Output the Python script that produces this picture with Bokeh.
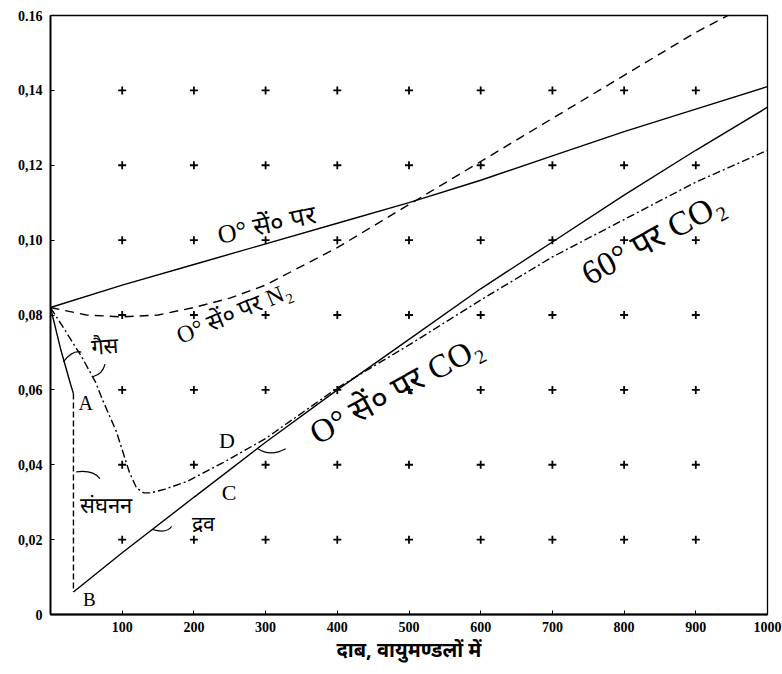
from bokeh.plotting import figure
from bokeh.models import FixedTicker, Range1d, ColumnDataSource
from bokeh.core.properties import value
from bokeh.embed import file_html
from bokeh.resources import INLINE

# ---------------- data ----------------
# gas at 0 deg C  -- solid, "O° सें० पर"
h2_x = [0, 100, 200, 300, 400, 500, 600, 700, 800, 900, 1000]
h2_y = [0.082, 0.088, 0.0935, 0.099, 0.1045, 0.110, 0.116, 0.1225, 0.129, 0.135, 0.141]

# N2 at 0 deg C -- dashed
n2_x = [0, 50, 100, 150, 200, 250, 300, 400, 500, 600, 700, 800, 900, 945]
n2_y = [0.082, 0.080, 0.0795, 0.080, 0.082, 0.0845, 0.088, 0.098, 0.1095, 0.121, 0.1325, 0.144, 0.1555, 0.160]

# CO2 at 0 deg C -- gas branch (solid)
co2g_x = [0, 14, 28, 32]
co2g_y = [0.082, 0.071, 0.0615, 0.059]
# condensation (dashed vertical)
cond_x = [32, 32]
cond_y = [0.059, 0.006]
# liquid branch (solid)
co2l_x = [32, 100, 200, 300, 400, 500, 600, 700, 800, 900, 1000]
co2l_y = [0.006, 0.0165, 0.0313, 0.046, 0.060, 0.0735, 0.087, 0.0995, 0.112, 0.124, 0.1355]

# CO2 at 60 deg C -- dash-dot
co260_x = [0, 20, 43, 63, 72, 92, 110, 120, 130, 140, 160, 190, 240, 300, 400, 500, 600, 700, 800, 900, 1000]
co260_y = [0.082, 0.076, 0.069, 0.062, 0.0576, 0.0488, 0.038, 0.0338, 0.0325, 0.0325, 0.0335,
           0.0355, 0.0405, 0.047, 0.0605, 0.072, 0.084, 0.0955, 0.1055, 0.1155, 0.124]

# ticks
x_ticks = [100, 200, 300, 400, 500, 600, 700, 800, 900, 1000]
x_tick_labels = ["100", "200", "300", "400", "500", "600", "700", "800", "900", "1000"]
y_ticks = [0, 0.02, 0.04, 0.06, 0.08, 0.10, 0.12, 0.14, 0.16]
y_tick_labels = ["0", "0,02", "0,04", "0,06", "0,08", "0,10", "0,12", "0,14", "0.16"]

# grid crosses
cross_xs = [100, 200, 300, 400, 500, 600, 700, 800, 900]
cross_ys = [0.02, 0.04, 0.06, 0.08, 0.10, 0.12, 0.14]

x_title = "दाब, वायुमण्डलों में"

# text annotations
ann_text = ["O° सें० पर", "O° सें० पर N₂", "O° सें० पर CO₂", "60° पर CO₂",
            "गैस", "संघनन", "द्रव", "A", "B", "C", "D"]
ann_x = [302, 256, 482, 840, 76, 78, 214, 49, 54, 249, 246]
ann_y = [0.1040, 0.0805, 0.0600, 0.1005, 0.0715, 0.0290, 0.0243, 0.0565, 0.0040, 0.0325, 0.0465]
ann_angle = [0.21, 0.40, 0.50, 0.50, 0.08, 0.0, 0.0, 0.0, 0.0, 0.0, 0.0]
ann_size = ["26px", "24px", "33px", "34px", "22px", "22px", "21px", "20px", "19px", "22px", "22px"]

# small leader curves (x0, y0, x1, y1, cx, cy)
lead_x0 = [43, 76, 69, 169, 328]
lead_y0 = [0.0701, 0.0669, 0.0363, 0.0235, 0.0443]
lead_x1 = [18, 59, 36, 142, 289]
lead_y1 = [0.0675, 0.0635, 0.0381, 0.0227, 0.0443]
lead_cx = [31, 73, 59, 162, 307]
lead_cy = [0.0707, 0.0643, 0.0387, 0.0216, 0.0421]

# ---------------- figure ----------------
p = figure(width=782, height=665,
           x_range=Range1d(0, 1000), y_range=Range1d(0, 0.16),
           output_backend="svg", toolbar_location=None,
           min_border_left=50, min_border_right=15,
           min_border_top=15, min_border_bottom=50)
p.xgrid.visible = False
p.ygrid.visible = False
p.outline_line_color = "black"
p.outline_line_width = 1.3
p.background_fill_color = "white"
p.border_fill_color = "white"

serif = "Liberation Serif"

for ax in (p.xaxis[0], p.yaxis[0]):
    ax.axis_line_width = 1.8
    ax.axis_line_color = "black"
    ax.major_tick_in = 4
    ax.major_tick_out = 0
    ax.minor_tick_line_color = None
    ax.major_label_text_font = serif
    ax.major_label_text_font_style = "bold"
    ax.major_label_text_font_size = "14px"
    ax.major_label_text_color = "black"

p.xaxis.ticker = FixedTicker(ticks=x_ticks)
p.xaxis.major_label_overrides = {t: l for t, l in zip(x_ticks, x_tick_labels)}
p.xaxis.major_label_standoff = 7
p.yaxis.ticker = FixedTicker(ticks=y_ticks)
p.yaxis.major_label_overrides = {t: l for t, l in zip(y_ticks, y_tick_labels)}
p.yaxis.major_label_standoff = 8

p.xaxis.axis_label = x_title
p.xaxis.axis_label_text_font = "Noto Sans"
p.xaxis.axis_label_text_font_style = "bold"
p.xaxis.axis_label_text_font_size = "20px"
p.xaxis.axis_label_standoff = 1
p.xaxis.axis_label_text_color = "black"

# grid crosses
gx = [x for y in cross_ys for x in cross_xs]
gy = [y for y in cross_ys for x in cross_xs]
p.scatter(gx, gy, marker="cross", size=8, line_width=1.8, color="black")

# curves
p.line(h2_x, h2_y, line_color="black", line_width=1.4)
p.line(n2_x, n2_y, line_color="black", line_width=1.4, line_dash="9 6")
p.line(co2g_x, co2g_y, line_color="black", line_width=1.4)
p.line(cond_x, cond_y, line_color="black", line_width=1.4, line_dash="6 3")
p.line(co2l_x, co2l_y, line_color="black", line_width=1.4)
p.line(co260_x, co260_y, line_color="black", line_width=1.4, line_dash="8 3 2 3")

# leaders
p.quadratic(x0=lead_x0, y0=lead_y0, x1=lead_x1, y1=lead_y1, cx=lead_cx, cy=lead_cy,
            line_color="black", line_width=1.2)

# labels
src = ColumnDataSource(dict(x=ann_x, y=ann_y, text=ann_text, angle=ann_angle, size=ann_size))
p.text(x="x", y="y", text="text", angle="angle", text_font_size="size", source=src,
       text_font=value(serif), text_align="center", text_baseline="middle",
       text_color="black")

open("out.html", "w").write(file_html(p, INLINE))
